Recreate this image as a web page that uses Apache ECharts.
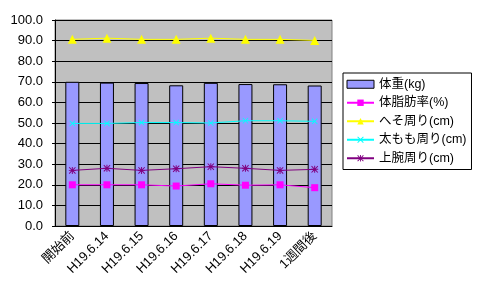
<!DOCTYPE html>
<html>
<head>
<meta charset="utf-8">
<script src="https://cdn.jsdelivr.net/npm/echarts@6/dist/echarts.min.js"></script>
<style>
 html, body { margin: 0; padding: 0; background: #fff; }
 #chart { width: 479px; height: 299px; }
</style>
</head>
<body>
<div id="chart"></div>
<script>
const categories = ['開始前', 'H19.6.14', 'H19.6.15', 'H19.6.16', 'H19.6.17', 'H19.6.18', 'H19.6.19', '1週間後']
const weight = [70.0, 69.6, 69.4, 68.3, 69.5, 68.9, 68.8, 68.2]
const bodyFat = [20.0, 20.0, 20.0, 19.4, 20.5, 19.8, 20.0, 18.6]
const navel = [90.6, 91.2, 90.6, 90.6, 91.2, 90.6, 90.6, 90.1]
const thigh = [49.8, 49.8, 50.2, 50.2, 50.0, 51.1, 51.1, 50.8]
const upperArm = [27.0, 28.0, 27.0, 27.8, 28.8, 28.0, 27.0, 27.5]

const font = "'Liberation Sans', 'Noto Sans CJK JP', sans-serif"
const crossPath = 'path://M0,1L1,0L5,4L9,0L10,1L6,5L10,9L9,10L5,6L1,10L0,9L4,5Z'
const starPath = 'path://M0,1L1,0L4.3,3.3L4.3,0L5.7,0L5.7,3.3L9,0L10,1L6.7,4.3L10,4.3L10,5.7L6.7,5.7L10,9L9,10L5.7,6.7L5.7,10L4.3,10L4.3,6.7L1,10L0,9L3.3,5.7L0,5.7L0,4.3L3.3,4.3Z'

const lineSeries = (name, data, color, symbol, size) => ({
 name: name,
 type: 'line',
 data: data,
 symbol: symbol,
 symbolSize: size,
 showAllSymbol: true,
 lineStyle: { color: color, width: 1 },
 itemStyle: { color: color },
 z: 3
})

const chart = echarts.init(document.getElementById('chart'))
chart.setOption({
 animation: false,
 textStyle: { fontFamily: font },
 grid: {
  left: 55,
  top: 20,
  right: 147,
  bottom: 73,
  show: true,
  backgroundColor: '#C0C0C0',
  borderColor: '#808080',
  borderWidth: 1
 },
 legend: {
  orient: 'vertical',
  left: 343,
  top: 73,
  padding: [5, 5, 5, 3],
  itemGap: 6,
  itemWidth: 27,
  itemHeight: 8,
  backgroundColor: '#fff',
  borderColor: '#000',
  borderWidth: 1,
  borderRadius: 0,
  textStyle: { fontSize: 12.5, color: '#000', fontFamily: font },
  data: [
   { name: '体重(kg)', icon: 'rect', itemStyle: { borderWidth: 1, borderColor: '#000' } },
   '体脂肪率(%)', 'へそ周り(cm)', '太もも周り(cm)', '上腕周り(cm)'
  ]
 },
 xAxis: {
  type: 'category',
  data: categories,
  boundaryGap: true,
  axisLine: { lineStyle: { color: '#000', width: 1 } },
  axisTick: { inside: true, length: 5, lineStyle: { color: '#000' } },
  axisLabel: { rotate: 45, margin: 8, fontSize: 13, color: '#000', interval: 0 },
  splitLine: { show: false }
 },
 yAxis: {
  type: 'value',
  min: 0,
  max: 100,
  interval: 10,
  axisLine: { show: true, lineStyle: { color: '#000', width: 1 } },
  axisTick: { show: true, length: 3, lineStyle: { color: '#000' } },
  axisLabel: { fontSize: 13, color: '#000', margin: 12, formatter: v => v.toFixed(1) },
  splitLine: { lineStyle: { color: '#000', width: 1 } }
 },
 series: [
  {
   name: '体重(kg)',
   type: 'bar',
   data: weight,
   barWidth: 14,
   itemStyle: { color: '#9999FF', borderColor: '#000', borderWidth: 1 },
   z: 2
  },
  lineSeries('体脂肪率(%)', bodyFat, '#FF00FF', 'rect', 7),
  lineSeries('へそ周り(cm)', navel, '#FFFF00', 'triangle', 9),
  lineSeries('太もも周り(cm)', thigh, '#00FFFF', crossPath, 6),
  lineSeries('上腕周り(cm)', upperArm, '#800080', starPath, 7)
 ]
})
</script>
</body>
</html>
